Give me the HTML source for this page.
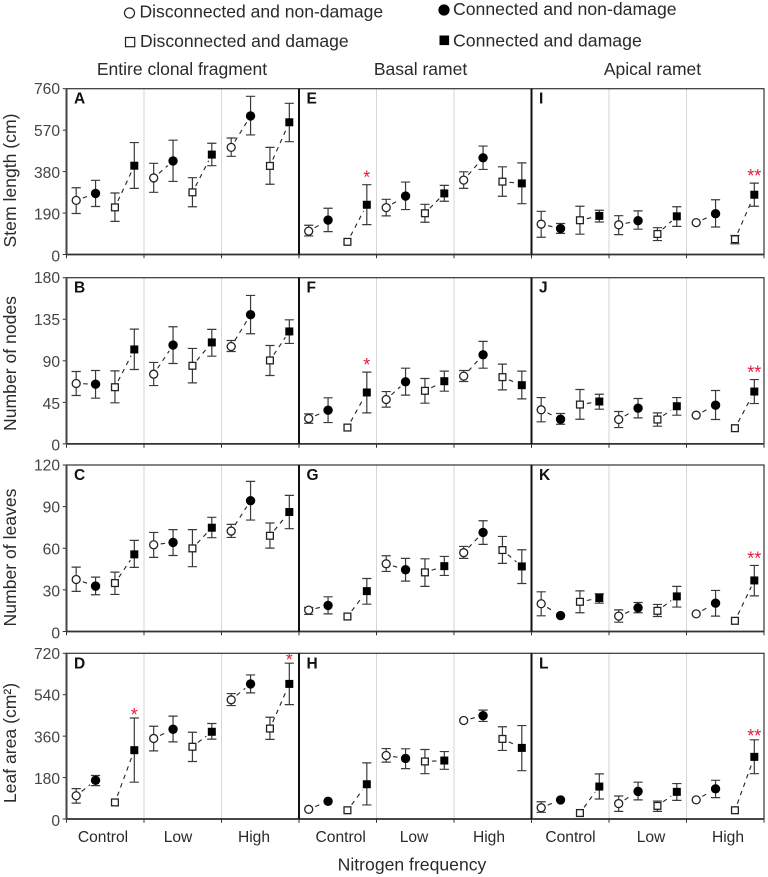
<!DOCTYPE html>
<html lang="en">
<head>
<meta charset="utf-8">
<title>Clonal fragment traits by nitrogen frequency</title>
<style>
  html, body { margin: 0; padding: 0; background: #fff; }
  svg { display: block; font-family: "Liberation Sans", sans-serif; }
  text { fill: #2a2a2a; }
</style>
</head>
<body>
<svg id="chart" xmlns="http://www.w3.org/2000/svg" width="768" height="877" viewBox="0 0 768 877">
  <g font-size="17.55">
    <g>
      <circle cx="129.5" cy="13" r="5" fill="#fff" stroke="#222" stroke-width="1.2"/>
      <text x="139.5" y="17.5">Disconnected and non-damage</text>
    </g>
    <g>
      <circle cx="444" cy="10" r="5.6" fill="#000"/>
      <text x="453" y="15" font-size="17.65">Connected and non-damage</text>
    </g>
    <g>
      <rect x="125.5" y="37.5" width="9.2" height="9.2" fill="#fff" stroke="#222" stroke-width="1.2"/>
      <text x="140" y="47">Disconnected and damage</text>
    </g>
    <g>
      <rect x="439.5" y="35.5" width="9.6" height="9.6" fill="#000"/>
      <text x="453" y="46.5" font-size="17.7">Connected and damage</text>
    </g>
  </g>
  <g font-size="17.5" text-anchor="middle">
    <text x="182" y="75">Entire clonal fragment</text>
    <text x="420.5" y="75">Basal ramet</text>
    <text x="652.5" y="75">Apical ramet</text>
  </g>
  <g font-size="17.6" text-anchor="middle">
    <text transform="translate(16 180.5) rotate(-90)">Stem length (cm)</text>
    <text transform="translate(16 363.5) rotate(-90)">Number of nodes</text>
    <text transform="translate(16 557.5) rotate(-90)">Number of leaves</text>
    <text transform="translate(16 743) rotate(-90)">Leaf area (cm²)</text>
  </g>
  <text x="412" y="870.5" font-size="17.6" text-anchor="middle">Nitrogen frequency</text>
</svg>
<script>
// Tick labels and categories
const groupLabels = ['Control', 'Low', 'High'];
const stemTicks = [0, 190, 380, 570, 760];
const nodeTicks = [0, 45, 90, 135, 180];
const leafTicks = [0, 30, 60, 90, 120];
const areaTicks = [0, 180, 360, 540, 720];

// Panel A: stem length, entire fragment
const meanA = [248, 280, 216, 407, 351, 429, 285, 458, 491, 635, 406, 606];
const lowA = [188, 220, 152, 303, 285, 335, 219, 407, 450, 548, 322, 517];
const highA = [306, 340, 282, 513, 418, 524, 352, 510, 534, 725, 491, 693];
// Panel E: stem length, basal ramet
const meanE = [107, 158, 58, 228, 215, 268, 189, 280, 341, 443, 334, 326];
const lowE = [85, 105, 58, 137, 177, 206, 148, 244, 303, 390, 267, 233];
const highE = [134, 212, 58, 320, 253, 332, 230, 317, 379, 497, 402, 420];
// Panel I: stem length, apical ramet
const meanI = [139, 119, 157, 177, 136, 155, 94, 175, 146, 187, 70, 274];
const lowI = [79, 97, 93, 149, 91, 116, 64, 129, 146, 126, 49, 221];
const highI = [198, 142, 221, 203, 178, 200, 123, 219, 146, 251, 87, 327];
// Panel B: nodes, entire fragment
const meanB = [65.4, 64.7, 61.4, 102.3, 75.5, 107, 84.6, 109.9, 105.5, 139.9, 90.4, 121.8];
const lowB = [52.4, 49.5, 44.5, 80.6, 63.2, 87.1, 66.1, 95, 100.1, 119.3, 74.1, 108.8];
const highB = [78.4, 79.5, 79.1, 124.3, 88.2, 126.9, 103.4, 124, 112, 160.8, 106.6, 134.4];
// Panel F: nodes, basal ramet
const meanF = [27.5, 36.5, 17.7, 55.7, 48.1, 67.2, 57.5, 67.9, 73.4, 96.5, 72.3, 63.6];
const lowF = [22.4, 23.1, 17.7, 33.6, 39.8, 52.8, 44.1, 57.1, 67.6, 82, 58.5, 48.8];
const highF = [32.5, 49.9, 17.7, 77.7, 56.7, 82, 70.8, 78.8, 79.5, 111, 86.4, 78.8];
// Panel J: nodes, apical ramet
const meanJ = [36.9, 26.7, 42.6, 45.9, 26.4, 38.7, 26.4, 40.8, 31.1, 41.9, 17, 56.7];
const lowJ = [23.9, 21.3, 26.7, 37.6, 17.7, 28.2, 19.2, 31.1, 31.1, 26.4, 17, 43.7];
const highJ = [50.2, 32.9, 58.9, 53.8, 35.1, 49.2, 33.6, 50.2, 31.1, 57.8, 17, 69.7];
// Panel C: leaves, entire fragment
const meanC = [37.5, 32.7, 34.9, 55.6, 62.5, 64.2, 59.9, 74.8, 72.4, 94.3, 69, 86.1];
const lowC = [28.9, 26.5, 26.7, 46.2, 53.4, 54.8, 46.7, 67.6, 67.8, 80.3, 60.1, 74.1];
const highC = [46.4, 39.2, 42.8, 65.7, 71.4, 73.4, 73.4, 82.3, 77.2, 108.2, 78.2, 98.1];
// Panel G: leaves, basal ramet
const meanG = [15.4, 18.8, 10.8, 29.1, 48.8, 44.5, 42.6, 47.1, 56.8, 71.4, 58.7, 46.9];
const lowG = [12.3, 12.7, 10.8, 19.7, 43.3, 36.3, 32.5, 40.4, 52.7, 62.8, 49.1, 34.6];
const highG = [17.3, 25, 10.8, 38.2, 54.6, 52.7, 52.4, 54.1, 61.3, 79.8, 68.5, 58.9];
// Panel K: leaves, apical ramet
const meanK = [20, 11.5, 21.4, 24.1, 11.1, 17.1, 14.9, 25.3, 12.7, 20.4, 7.7, 36.8];
const lowK = [11.3, 11.5, 13.5, 20.4, 6.7, 13.5, 10.8, 17.6, 12.7, 11.1, 7.7, 25.7];
const highK = [28.6, 11.5, 29.3, 27.2, 15.6, 20.9, 19.5, 32.5, 12.7, 29.6, 7.7, 47.6];
// Panel D: leaf area, entire fragment
const meanD = [101, 168, 72, 299, 350, 390, 314, 379, 518, 587, 393, 587];
const lowD = [69, 145, 72, 160, 296, 335, 250, 347, 493, 548, 346, 497];
const highD = [132, 189, 72, 439, 403, 447, 377, 415, 545, 626, 442, 677];
// Panel H: leaf area, basal ramet
const meanH = [42, 77, 38, 151, 276, 263, 250, 254, 428, 449, 348, 309];
const lowH = [42, 77, 38, 61, 247, 219, 197, 216, 428, 424, 298, 210];
const highH = [42, 77, 38, 244, 306, 305, 302, 293, 428, 473, 401, 406];
// Panel L: leaf area, apical ramet
const meanL = [49, 83, 26, 141, 67, 120, 57, 118, 83, 131, 38, 270];
const lowL = [29, 83, 26, 87, 33, 83, 33, 81, 83, 93, 38, 197];
const highL = [75, 83, 26, 196, 100, 160, 78, 154, 83, 168, 38, 344];

// Layout (not data)
const colEdges = [[66.5, 299], [299, 531.5], [531.5, 764]];
const rowEdges = [[88.7, 254.5], [277.7, 443.9], [465, 631.5], [653.3, 819]];
const rowTicks = [stemTicks, nodeTicks, leafTicks, areaTicks];
const groupLabelCentres = [[103, 178, 254], [340.7, 414, 489], [570.5, 651, 728]];

const panels = [
  { letter: 'A', col: 0, row: 0, mean: meanA, low: lowA, high: highA, stars: [] },
  { letter: 'E', col: 1, row: 0, mean: meanE, low: lowE, high: highE, stars: [{ i: 3, s: '*', gap: 11.5 }] },
  { letter: 'I', col: 2, row: 0, mean: meanI, low: lowI, high: highI, stars: [{ i: 11, s: '**', gap: 11.5 }] },
  { letter: 'B', col: 0, row: 1, mean: meanB, low: lowB, high: highB, stars: [] },
  { letter: 'F', col: 1, row: 1, mean: meanF, low: lowF, high: highF, stars: [{ i: 3, s: '*', gap: 11.5 }] },
  { letter: 'J', col: 2, row: 1, mean: meanJ, low: lowJ, high: highJ, stars: [{ i: 11, s: '**', gap: 11.5 }] },
  { letter: 'C', col: 0, row: 2, mean: meanC, low: lowC, high: highC, stars: [] },
  { letter: 'G', col: 1, row: 2, mean: meanG, low: lowG, high: highG, stars: [] },
  { letter: 'K', col: 2, row: 2, mean: meanK, low: lowK, high: highK, stars: [{ i: 11, s: '**', gap: 11.5 }] },
  { letter: 'D', col: 0, row: 3, mean: meanD, low: lowD, high: highD, stars: [{ i: 3, s: '*', gap: 7.5 }, { i: 11, s: '*', gap: 7.5 }] },
  { letter: 'H', col: 1, row: 3, mean: meanH, low: lowH, high: highH, stars: [] },
  { letter: 'L', col: 2, row: 3, mean: meanL, low: lowL, high: highL, stars: [{ i: 11, s: '**', gap: 8 }] }
];

const NS = 'http://www.w3.org/2000/svg';
const svg = document.getElementById('chart');

function make(parent, tag, props) {
  const el = document.createElementNS(NS, tag);
  for (const k in props) el.setAttribute(k, props[k]);
  parent.appendChild(el);
  return el;
}

panels.forEach(function (p) {
  const L = colEdges[p.col][0], R = colEdges[p.col][1];
  const T = rowEdges[p.row][0], B = rowEdges[p.row][1];
  const ticks = rowTicks[p.row];
  const yMax = ticks[ticks.length - 1];
  const band = (R - L) / p.mean.length;
  const xAt = function (i) { return L + band * (i + 0.5); };
  const yAt = function (v) { return B - (v / yMax) * (B - T); };

  const g = make(svg, 'g', {});
  
  

  // group separators
  for (let k = 1; k < groupLabels.length; k++) {
    const gx = L + (R - L) * k / groupLabels.length;
    const sep = make(g, 'line', { x1: gx, x2: gx, y1: T, y2: B, stroke: '#d6d6d6', 'stroke-width': 1 });
    
    
  }

  // x ticks
  for (let k = 0; k <= groupLabels.length; k++) {
    const gx = L + (R - L) * k / groupLabels.length;
    const tk = make(g, 'line', { x1: gx, x2: gx, y1: B, y2: B + 3.8, stroke: '#333', 'stroke-width': 1 });
    
    
  }

  // x labels on the bottom row
  if (p.row === rowEdges.length - 1) {
    groupLabels.forEach(function (label, k) {
      const t = make(g, 'text', { x: groupLabelCentres[p.col][k], y: 842, 'font-size': 15.6, 'text-anchor': 'middle' });
      t.textContent = label;
      
      
    });
  }

  // y ticks on the first column
  if (p.col === 0) {
    ticks.forEach(function (v) {
      const tk = make(g, 'line', { x1: L - 3.8, x2: L, y1: yAt(v), y2: yAt(v), stroke: '#333', 'stroke-width': 1 });
      
      
      const t = make(g, 'text', { x: 60, y: yAt(v) + 5.5 + (1 - v / yMax) * 1.3, 'font-size': 15.6, 'text-anchor': 'end', style: 'fill:#444' });
      t.textContent = v;
      
      
    });
  }

  // dashed connectors within each treatment pair
  for (let i = 0; i + 1 < p.mean.length; i += 2) {
    const x1 = xAt(i), y1 = yAt(p.mean[i]), x2 = xAt(i + 1), y2 = yAt(p.mean[i + 1]);
    const len = Math.hypot(x2 - x1, y2 - y1);
    const trim = 7;
    if (len <= trim * 2) continue;
    const ux = (x2 - x1) / len, uy = (y2 - y1) / len;
    const dash = make(g, 'line', {
      x1: x1 + ux * trim, y1: y1 + uy * trim, x2: x2 - ux * trim, y2: y2 - uy * trim,
      stroke: '#222', 'stroke-width': 1.1, 'stroke-dasharray': '4.5 4.5'
    });
    
    
  }

  // error bars
  p.mean.forEach(function (m, i) {
    if (p.high[i] - p.low[i] <= 0) return;
    const x = xAt(i), yh = yAt(p.high[i]), yl = yAt(p.low[i]);
    const bar = make(g, 'path', {
      d: 'M' + x + ' ' + yh + 'V' + yl + 'M' + (x - 4.6) + ' ' + yh + 'H' + (x + 4.6) + 'M' + (x - 4.6) + ' ' + yl + 'H' + (x + 4.6),
      fill: 'none', stroke: '#3a3a3a', 'stroke-width': 1.2
    });
    
    
  });

  // markers: open circle, filled circle, open square, filled square
  p.mean.forEach(function (m, i) {
    const x = xAt(i), y = yAt(m), kind = i % 4;
    let mk;
    if (kind === 0) {
      mk = make(g, 'circle', { cx: x, cy: y, r: 4, fill: '#fff', stroke: '#222', 'stroke-width': 1.3 });
      
    } else if (kind === 1) {
      mk = make(g, 'circle', { cx: x, cy: y, r: 4.7, fill: '#000' });
      
    } else if (kind === 2) {
      mk = make(g, 'rect', { x: x - 3.4, y: y - 3.4, width: 6.8, height: 6.8, fill: '#fff', stroke: '#222', 'stroke-width': 1.3 });
      
    } else {
      mk = make(g, 'rect', { x: x - 4, y: y - 4, width: 8, height: 8, fill: '#000' });
      
    }
    
  });

  // significance stars
  p.stars.forEach(function (s) {
    const t = make(g, 'text', {
      x: xAt(s.i), y: yAt(p.high[s.i]) - s.gap + 10.4,
      'font-size': 18, 'text-anchor': 'middle', style: 'fill:#e8173a'
    });
    t.textContent = s.s;
    
    
  });

  // panel letter
  const letter = make(g, 'text', { x: L + 7.5, y: T + 15, 'font-size': 15.5, 'font-weight': 'bold', style: 'fill:#111' });
  letter.textContent = p.letter;
  
  

  // frame
  const frame = make(g, 'rect', { x: L, y: T, width: R - L, height: B - T, fill: 'none', stroke: '#333', 'stroke-width': 1.2 });
  
  

  // heavier bottom axis
  const base = make(g, 'line', { x1: L, x2: R, y1: B, y2: B, stroke: '#333', 'stroke-width': 1.8 });
  
  
});

// heavier column dividers and left axis
colEdges.forEach(function (edge, c) {
  rowEdges.forEach(function (r) {
    const d = make(svg, 'line', { x1: edge[0], x2: edge[0], y1: r[0], y2: r[1], stroke: c === 0 ? '#444' : '#111', 'stroke-width': 2 });
    
    
  });
});
</script>
</body>
</html>
